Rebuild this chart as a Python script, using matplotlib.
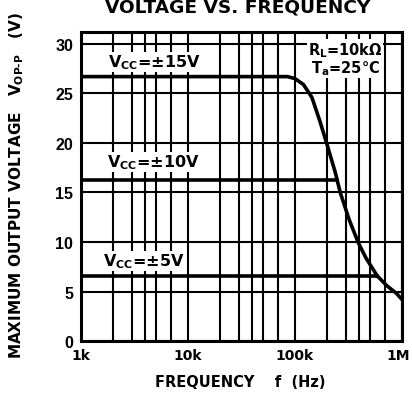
import numpy as np
import matplotlib
matplotlib.use('Agg')
import matplotlib.pyplot as plt
import matplotlib.transforms as mtransforms

# data
freq15 = [1e3, 1e4, 5e4, 8.5e4, 1.0e5, 1.2e5, 1.44e5, 1.71e5, 2.0e5, 2.37e5,
          2.65e5, 3.2e5, 3.88e5, 4.6e5, 5.85e5, 7.2e5, 8.9e5, 1.0e6]
vout15 = [26.7, 26.7, 26.7, 26.7, 26.5, 25.9, 24.6, 22.2, 19.8, 17.1,
          15.0, 12.3, 10.0, 8.4, 6.6, 5.6, 4.8, 4.2]
freq10 = [1e3, 1e5, 2.45e5]
vout10 = [16.3, 16.3, 16.3]
freq5 = [1e3, 1e5, 5.85e5]
vout5 = [6.6, 6.6, 6.6]

yticks = [0, 5, 10, 15, 20, 25, 30]
xticks = [1e3, 1e4, 1e5, 1e6]
xticklabels = ['1k', '10k', '100k', '1M']

plt.rcParams['font.family'] = ['DejaVu Sans']
plt.rcParams['font.weight'] = 'bold'

fig = plt.figure(figsize=(4.12, 4.06), dpi=100)
ax = fig.add_axes([0.1966, 0.1576, 0.779, 0.761])

# grid: 2,3,4,5,7 per decade
minor = []
for d in [1e3, 1e4, 1e5]:
    for m in [2, 3, 4, 5, 7]:
        minor.append(d * m)
for x in minor + xticks:
    ax.axvline(x, color='black', lw=1.5, zorder=1)
for y in yticks:
    ax.axhline(y, color='black', lw=1.5, zorder=1)

ax.plot(freq15, vout15, color='black', lw=2.6, zorder=3)
ax.plot(freq10, vout10, color='black', lw=2.6, zorder=3)
ax.plot(freq5, vout5, color='black', lw=2.6, zorder=3)

ax.set_xscale('log')
ax.set_xlim(1e3, 1e6)
ax.set_ylim(0, 31.2)
ax.set_xticks(xticks)
ax.set_xticklabels(xticklabels)
ax.xaxis.set_minor_locator(matplotlib.ticker.NullLocator())
ax.set_yticks(yticks)
ax.tick_params(axis='x', length=0, labelsize=10, pad=5)
ax.tick_params(axis='y', length=0, labelsize=11.5, pad=5.5)
for lab in ax.get_xticklabels():
    lab.set_fontweight('bold')
for lab in ax.get_yticklabels():
    lab.set_fontweight('bold')
    lab.set_family('Liberation Sans')
# keep "1M" inside the picture
last = ax.get_xticklabels()[-1]
last.set_transform(last.get_transform() +
                   mtransforms.ScaledTranslation(-4 / 100, 0, fig.dpi_scale_trans))
for s in ax.spines.values():
    s.set_linewidth(2.2)

txt = dict(fontsize=11.5, fontweight='bold', zorder=5, va='baseline',
           bbox=dict(facecolor='white', edgecolor='none', pad=0.5))
ax.text(1.79e3, 27.7, r'V$_{\mathregular{CC}}$=±15V', **txt)
ax.text(1.75e3, 17.6, r'V$_{\mathregular{CC}}$=±10V', **txt)
ax.text(1.62e3, 7.6, r'V$_{\mathregular{CC}}$=±5V', **txt)
txt2 = dict(txt, fontsize=10.5)
ax.text(1.32e5, 29.0, r'R$_{\mathregular{L}}$=10kΩ', **txt2)
ax.text(1.41e5, 27.1, r'T$_{\mathregular{a}}$=25°C', **txt2)

fig.text(0.583, 0.059, 'FREQUENCY    f  (Hz)', ha='center', va='center',
         fontsize=10.5, fontweight='bold')
fig.text(0.041, 0.544, r'MAXIMUM OUTPUT VOLTAGE   V$_{\mathregular{OP\text{-}P}}$   (V)',
         rotation=90, ha='center', va='center', fontsize=11, fontweight='bold')
fig.text(0.577, 0.968, 'VOLTAGE VS. FREQUENCY', ha='center', va='baseline',
         fontsize=13.3, fontweight='heavy')

fig.savefig('out.png', dpi=100)
